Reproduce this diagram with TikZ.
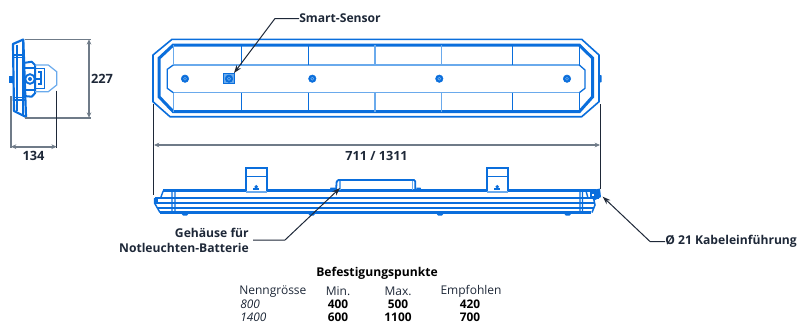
\documentclass[tikz,border=0pt]{standalone}
\usepackage{fontspec}
\setmainfont{Open Sans}
\usetikzlibrary{arrows.meta}
\definecolor{lblue}{HTML}{0A6EDC}
\definecolor{lpale}{HTML}{6AAAEC}
\definecolor{dimdark}{HTML}{1E2838}
\definecolor{dimgrey}{HTML}{6F7B88}
\tikzset{
 px/.style={line width=#1*0.75pt},
 bodyline/.style={draw=lblue,px=1.6,line join=round},
 thickline/.style={draw=lblue,px=3,line join=miter},
 thinline/.style={draw=lblue,px=1.3},
 paleline/.style={draw=lpale,px=1.5},
 extline/.style={draw=dimdark,px=1},
 greyline/.style={draw=dimgrey,px=1.6},
 dimline/.style={draw=dimgrey,px=1.6,{Stealth[length=4pt,width=3.5pt]}-{Stealth[length=4pt,width=3.5pt]}},
 leader/.style={draw=dimdark,px=1,-{Stealth[length=6pt,width=4.2pt]}},
 lab/.style={font=\fontsize{9.1pt}{10pt}\selectfont\bfseries,text=dimdark,inner sep=0pt},
 dimlab/.style={font=\fontsize{9.6pt}{10pt}\selectfont\bfseries,text=dimdark,inner sep=0pt},
 tabn/.style={font=\fontsize{9pt}{10pt}\selectfont,text=dimdark,inner sep=0pt},
 tabb/.style={font=\fontsize{8.9pt}{10pt}\selectfont\bfseries,text=black,inner sep=0pt},
 tabi/.style={font=\fontsize{8.9pt}{10pt}\selectfont\itshape,text=dimdark,inner sep=0pt},
 fixdot/.style={circle,fill=lblue,draw=lblue,minimum size=5.6pt,inner sep=0pt},
}
\begin{document}
\begin{tikzpicture}[x=0.75pt,y=-0.75pt]
\useasboundingbox (0,0) rectangle (800,325);

% ---------- top view ----------
\draw[bodyline] (172,39.3) -- (581.7,39.3) -- (599,55) -- (599,101.7) -- (581.7,116.7) -- (170,116.7) -- (153,101.7) -- (153,55) -- cycle;
\draw[thickline] (173.3,45) -- (579.3,45) -- (592.7,58.3) -- (592.7,96.7) -- (579.3,111.7) -- (173.3,111.7) -- (159,96.7) -- (159,58.3) -- cycle;
\draw[paleline] (173.3,65) -- (579.3,65) (173.3,92.7) -- (579.3,92.7);
\draw[thinline] (173.3,65) -- (167.3,69.3) -- (167.3,88.3) -- (173.3,92.7);
\draw[thinline] (579.3,65) -- (585,70) -- (585,88.3) -- (579.3,92.7);
\draw[paleline] (173.3,45) -- (173.3,65) (173.3,92.7) -- (173.3,111.7);
\draw[thinline] (579.3,45) -- (579.3,65) (579.3,92.7) -- (579.3,111.7);
\foreach \x/\c in {241.3/lblue,308.3/lblue,375/lpale,441.7/lpale,512.3/lblue}{
  \draw[draw=\c,px=1.3] (\x,45) -- (\x,65) (\x,92.7) -- (\x,111.7);
}
\foreach \n/\x in {fa/185,fb/312.3,fc/439.3,fd/567}{
  \node[fixdot] (\n) at (\x,78.7) {};
  \draw[draw=lpale,px=0.6] (\n) circle (1.5);
}
\node[draw=lblue,px=1.1,fill=lpale,minimum size=7.6pt,inner sep=0pt] (sensor) at (229,78.7) {};
\node[fixdot,minimum size=5.6pt] (sensordot) at (229,78.7) {};
\draw[draw=lpale,px=0.6] (sensordot) circle (1.7);
\fill[lblue] (598.6,74.5) -- (601.5,75.5) -- (601.5,82) -- (598.6,83) -- cycle;

% ---------- side view ----------
\draw[draw=lblue,px=2.2,line join=round] (13,44) -- (23.3,39.5) -- (26,117) -- (14,111) -- cycle;
\draw[draw=lblue,px=1.3] (17,44.5) -- (17,110.5);
\draw[draw=lblue,px=2] (23.3,39.5) -- (23.3,116);
\draw[draw=lblue,px=1.2] (13.5,55) -- (24,55) (13.5,100) -- (24.5,100);
\draw[draw=lblue,px=0.9] (13.5,57.5) -- (24,57.5) (13.5,97.5) -- (24.5,97.5);
\fill[lblue] (9.3,76) rectangle (13,83);
\draw[draw=lblue,px=2,line join=round] (23.5,63) -- (31.7,61.7) -- (35,65) -- (35,93.3) -- (31.7,96.7) -- (24,96);
\draw[draw=lblue,px=1.2] (24,68) -- (35,68) (24,90) -- (35,90);
\draw[draw=lpale,px=1.2] (35,65) -- (48.3,65) -- (56.7,71.7) -- (56.7,85) -- (48.3,91.7) -- (35,91.7);
\draw[draw=lblue,px=1.3] (36,68.3) -- (44.3,68.3) -- (44.3,88.3) -- (36,88.3);
\draw[draw=lblue,px=1.1] (38,72) -- (41,72) -- (41,84) -- (38,84);
\draw[draw=lblue,px=1.9] (30,79) circle (4.8);
\fill[lblue] (30,79) circle (2);
\draw[draw=lblue,px=1.6] (34,79) -- (40,79);

% ---------- bottom view ----------
\draw[draw=lblue,px=2.8] (163.3,190.7) -- (596,190.7);
\draw[draw=lblue,px=1.4] (160.5,198.3) -- (163.3,190.7) (172,190.7) -- (172,212) (175,190.7) -- (175,212);
\draw[draw=lblue,px=1.8] (154.5,198.3) -- (599,198.3);
\draw[draw=lblue,px=2.2] (155,203) -- (595,203);
\draw[draw=lblue,px=2.2] (158,208) -- (594,208);
\draw[draw=lblue,px=3] (160,212.5) -- (591,212.5);
\draw[draw=lblue,px=1.5] (154.5,198.3) -- (154.5,203) -- (160,212.5);
\fill[lblue] (154,197.5) rectangle (158,203);
\draw[draw=lblue,px=1.5] (593.5,198) -- (595,205) -- (592,212.5);
\draw[draw=lblue,px=1.4] (580,190.7) -- (580,212) (582.5,190.7) -- (582.5,212) (586,191) -- (588,198);
\fill[lblue] (590,190.5) -- (600,188.5) -- (601,197) -- (595,200) -- (590,198) -- cycle;
\fill[white] (592,193.5) rectangle (594,196);
% brackets
\foreach \x in {245.7,486.7}{
  \draw[draw=lblue,px=2,fill=white] (\x,191) -- (\x,168.3) -- ++(21,0) -- (\x+21,191);
  \draw[draw=lblue,px=1.5] (\x,176.7) -- ++(21,0);
  \draw[draw=lpale,px=1.4] (\x,192) -- ++(21,0);
  \fill[lblue] (\x+10.5,186.8) circle (1.9);
  \fill[lblue] (\x+7.5,188.2) rectangle (\x+13.5,190);
}
% battery box
\draw[draw=lblue,px=1.8,line join=round] (336,190) -- (336.7,181.5) -- (338.5,180) -- (414,180) -- (415.3,181.5) -- (415.3,190);
\draw[draw=lpale,px=1.3] (340,180.5) -- (340,190) (412.7,180.5) -- (412.7,190);
\fill[lblue] (329.5,190.5) -- (330.5,187.5) -- (335.5,187.5) -- (336,190.5) -- cycle;
\fill[lblue] (416,190.5) -- (416.5,187.5) -- (420.5,187.5) -- (421.5,190.5) -- cycle;
% feet
\foreach \x in {185,311.7,440,567.7}{
  \fill[lblue] (\x-4,213) -- (\x+4,213) -- (\x+2,215.5) -- (\x-2,215.5) -- cycle;
}

% ---------- dimensions ----------
\coordinate (ht1) at (25,39.3); \coordinate (ht2) at (90.7,39.3);
\coordinate (hb1) at (25,117.7); \coordinate (hb2) at (90.7,117.7);
\coordinate (ha1) at (89,39.3); \coordinate (ha2) at (89,117.7);
\draw[greyline] (ht1) -- (ht2);
\draw[greyline] (hb1) -- (hb2);
\draw[dimline] (ha1) -- (ha2);
\node[dimlab] (h227) at (102,79) {227};

\coordinate (wl1) at (11,96); \coordinate (wl2) at (11,148);
\coordinate (wr1) at (56.7,90.7); \coordinate (wr2) at (56.7,148);
\coordinate (wa1) at (11,146.7); \coordinate (wa2) at (56.7,146.7);
\draw[greyline] (wl1) -- (wl2);
\draw[extline] (wr1) -- (wr2);
\draw[dimline] (wa1) -- (wa2);
\node[dimlab] (w134) at (33.5,155.5) {134};

\coordinate (ll1) at (153.5,103.5); \coordinate (ll2) at (153.5,195);
\coordinate (lr1) at (600.3,104); \coordinate (lr2) at (600.3,189);
\coordinate (la1) at (154,145); \coordinate (la2) at (600,145);
\draw[extline] (ll1) -- (ll2);
\draw[extline] (lr1) -- (lr2);
\draw[dimline] (la1) -- (la2);
\node[lab,font=\fontsize{9.5pt}{10pt}\selectfont\bfseries] (l711) at (376.5,155.5) {711 / 1311};

% ---------- leaders ----------
\node[lab,anchor=west] (smart) at (299,18.5) {Smart-Sensor};
\coordinate (smartk) at (275,18.5);
\coordinate (smartt) at (234,73);
\draw[leader] (smart.west) -- (smartk) -- (smartt);

\node[lab,anchor=east] (geh) at (249,233) {Gehäuse für};
\node[lab,anchor=east] (not) at (249,248) {Notleuchten-Batterie};
\coordinate (batk) at (285,240);
\coordinate (batl) at (253,240);
\coordinate (batt) at (340,188);
\draw[leader] (batl) -- (batk) -- (batt);

\node[lab,anchor=west] (kab) at (665,241.5) {Ø 21 Kabeleinführung};
\coordinate (kabk) at (650,241.5);
\coordinate (kabt) at (602.7,196.7);
\draw[leader] (kab.west) -- (kabk) -- (kabt);

% ---------- table ----------
\node[lab,text=black] (tt) at (377,273.5) {Befestigungspunkte};
\node[tabn,anchor=base west] (t1) at (239,294) {Nenngrösse};
\node[tabn,anchor=base] (t2) at (338,295) {Min.};
\node[tabn,anchor=base] (t3) at (398,295) {Max.};
\node[tabn,anchor=base] (t4) at (471,294) {Empfohlen};
\node[tabi,anchor=base west] (a1) at (240,308) {800};
\node[tabb,anchor=base] (a2) at (338,308.5) {400};
\node[tabb,anchor=base] (a3) at (398,308.5) {500};
\node[tabb,anchor=base] (a4) at (470,308.5) {420};
\node[tabi,anchor=base west] (b1) at (240,321.5) {1400};
\node[tabb,anchor=base] (b2) at (338,321.5) {600};
\node[tabb,anchor=base] (b3) at (398,321.5) {1100};
\node[tabb,anchor=base] (b4) at (470,321.5) {700};
\end{tikzpicture}
\end{document}
